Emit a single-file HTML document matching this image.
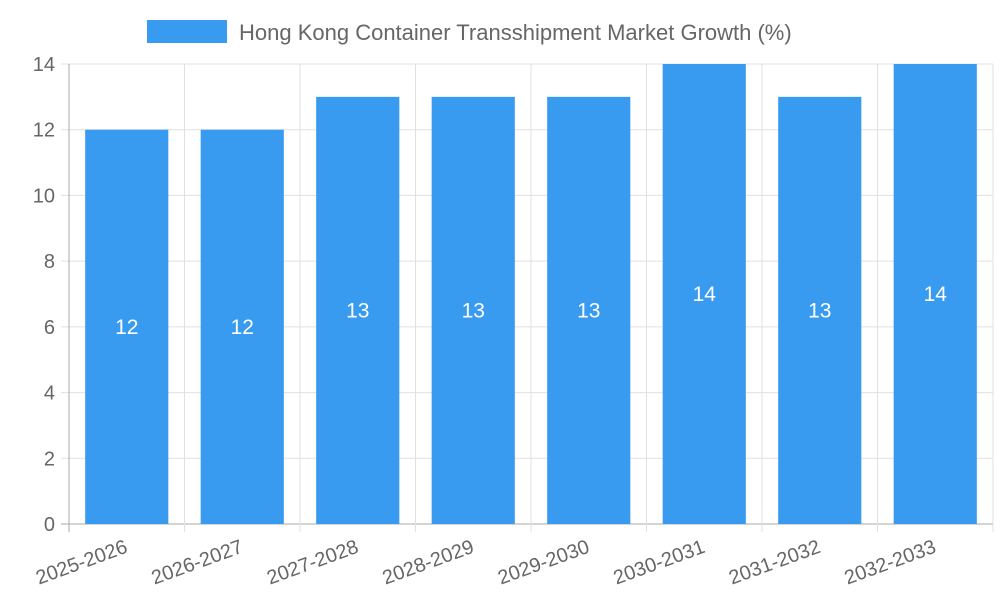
<!DOCTYPE html>
<html><head><meta charset="utf-8"><style>
body{margin:0;background:#fff}
svg{display:block;font-family:"Liberation Sans",sans-serif}
</style></head><body>
<svg id="c" width="1000" height="600"></svg>
<script>
const categories=["2025-2026","2026-2027","2027-2028","2028-2029","2029-2030","2030-2031","2031-2032","2032-2033"];
const values=[12,12,13,13,13,14,13,14];
const yTicks=[0,2,4,6,8,10,12,14];
const svg=document.getElementById('c');
const NS='http://www.w3.org/2000/svg';
const L=69,R=993,T=64,B=524,yMax=14;
const band=(R-L)/categories.length;
const y=v=>B-(v/yMax)*(B-T);
const xc=i=>L+band*(i+0.5);
function mk(t,a,p){const e=document.createElementNS(NS,t);for(const k in a)e.setAttribute(k,a[k]);(p||svg).appendChild(e);return e;}
// grid
yTicks.forEach(v=>{
 const g=mk('line',{x1:L-8,x2:R,y1:y(v),y2:y(v),stroke:v===0?'#aaa':'#e0e0e0','stroke-width':1});
 
 
 const t=mk('text',{x:L-14,y:y(v)+7,'text-anchor':'end','font-size':20,fill:'#666'});
 t.textContent=v;
 
 
});
for(let i=0;i<=categories.length;i++){
 const x=L+band*i;
 const g=mk('line',{x1:x,x2:x,y1:T,y2:B+8,stroke:i===0?'#aaa':'#e0e0e0','stroke-width':1});
 
 
}
const bw=band*0.72;
values.forEach((v,i)=>{
 const r=mk('rect',{x:xc(i)-bw/2,y:y(v),width:bw,height:B-y(v),fill:'#389bf0'});
 
 
 const t=mk('text',{x:xc(i),y:(y(v)+B)/2+7,'text-anchor':'middle','font-size':21,fill:'#fff'});
 t.textContent=v;
 
 
 const lx=xc(i)+2,ly=B+28;
 const c=mk('text',{x:lx,y:ly,'text-anchor':'end','font-size':20,fill:'#666',transform:`rotate(-20 ${lx} ${ly})`});
 c.textContent=categories[i];
 
 
});
// legend
const lg=mk('g',{});


mk('rect',{x:147,y:20,width:80,height:23,fill:'#389bf0'},lg);
const lt=mk('text',{x:239,y:40,'font-size':22,fill:'#666'},lg);
lt.textContent='Hong Kong Container Transshipment Market Growth (%)';
</script>
</body></html>
